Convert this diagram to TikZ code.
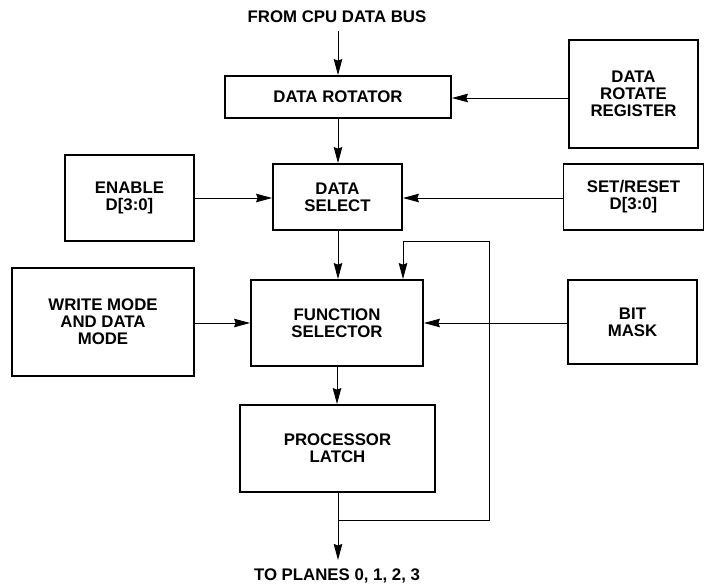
\documentclass[tikz,border=0pt]{standalone}
\usepackage{fontspec}
\setmainfont{Liberation Sans}
\usetikzlibrary{arrows.meta}
\begin{document}
\begin{tikzpicture}[x=1pt,y=-1pt,
  block/.style={draw=black, line width=1.8pt, align=center, inner sep=0pt,
    font=\bfseries\fontsize{16.8}{17}\selectfont},
  lbl/.style={font=\bfseries\fontsize{16.8}{17}\selectfont, inner sep=0pt},
  flow/.style={line width=1pt, -{Stealth[length=16pt,width=8.5pt,inset=1.5pt]}},
  wire/.style={line width=1pt}]
\useasboundingbox (0,0) rectangle (705,584);

% blocks
\node[block, minimum width=226pt, minimum height=42pt]  (rot)  at (338,97)    {DATA ROTATOR};
\node[block, minimum width=129pt, minimum height=108pt] (rreg) at (633.5,94)  {DATA\\ROTATE\\REGISTER};
\node[block, minimum width=129pt, minimum height=66pt]  (sel)  at (337.5,197) {DATA\\SELECT};
\node[block, minimum width=129pt, minimum height=86pt]  (en)   at (129.5,198) {ENABLE\\D[3:0]};
\node[block, minimum width=140pt, minimum height=66pt]  (sr)   at (633.5,197) {SET/RESET\\D[3:0]};
\node[block, minimum width=172pt, minimum height=86pt]  (fs)   at (337,323)   {FUNCTION\\SELECTOR};
\node[block, minimum width=182pt, minimum height=108pt] (wm)   at (103,322)   {WRITE MODE\\AND DATA\\MODE};
\node[block, minimum width=129pt, minimum height=84pt]  (bm)   at (632.5,322) {BIT\\MASK};
\node[block, minimum width=195pt, minimum height=87pt]  (pl)   at (337.5,448.5) {PROCESSOR\\LATCH};

% input and output labels
\node[lbl, anchor=base] (cpu) at (337,22.5) {FROM CPU DATA BUS};
\node[lbl, anchor=base] (planes) at (337,580) {TO PLANES 0, 1, 2, 3};

% junction points of the feedback loop
\coordinate (cpuin) at (338,31);
\coordinate (split) at (338,520);
\coordinate (out) at (338,560);
\coordinate (fbr) at (489,520);
\coordinate (fbt) at (489,241);
\coordinate (fbl) at (403,241);

% data path
\draw[flow] (cpuin) -- (cpuin |- rot.north);
\draw[flow] (rreg.west |- 0,98) -- (rot.east |- 0,98);
\draw[flow] (rot.south -| 338,0) -- (sel.north -| 338,0);
\draw[flow] (en.east |- 0,198) -- (sel.west |- 0,198);
\draw[flow] (sr.west |- 0,198) -- (sel.east |- 0,198);
\draw[flow] (sel.south -| 338,0) -- (fs.north -| 338,0);
\draw[flow] (wm.east |- 0,323) -- (fs.west |- 0,323);
\draw[flow] (bm.west |- 0,323) -- (fs.east |- 0,323);
\draw[flow] (fs.south -| 337,0) -- (pl.north -| 337,0);
\draw[wire] (pl.south -| split) -- (split);
\draw[flow] (split) -- (out);

% latch feedback into the function selector
\draw[wire] (split) -- (fbr) -- (fbt) -- (fbl);
\draw[flow] (fbl) -- (fbl |- fs.north);
\end{tikzpicture}
\end{document}
